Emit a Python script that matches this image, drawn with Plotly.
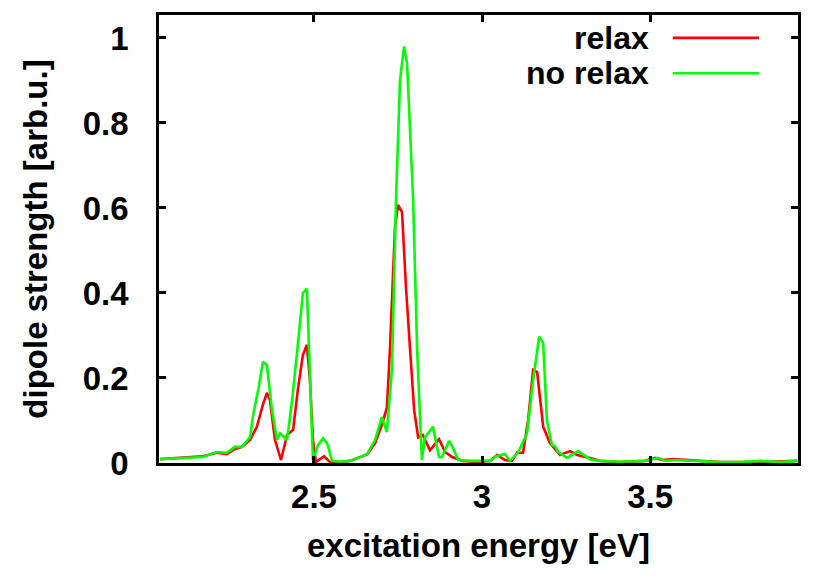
import plotly.graph_objects as go

# spectrum, relaxed geometry (red)
relax_x = [2.042, 2.101, 2.170, 2.211, 2.241, 2.265, 2.286, 2.310, 2.330, 2.348,
           2.360, 2.369, 2.384, 2.402, 2.420, 2.438, 2.452, 2.467, 2.479, 2.488,
           2.497, 2.506, 2.530, 2.548, 2.577, 2.607, 2.631, 2.658, 2.682, 2.702,
           2.717, 2.726, 2.741, 2.750, 2.762, 2.774, 2.786, 2.798, 2.810, 2.824,
           2.845, 2.872, 2.890, 2.911, 2.943, 2.994, 3.024, 3.045, 3.068, 3.089,
           3.104, 3.122, 3.137, 3.152, 3.164, 3.182, 3.202, 3.232, 3.262, 3.283,
           3.321, 3.351, 3.411, 3.485, 3.515, 3.536, 3.568, 3.640, 3.708, 3.827,
           3.938]
relax_y = [0.009, 0.012, 0.016, 0.024, 0.021, 0.033, 0.038, 0.054, 0.085, 0.137,
           0.165, 0.148, 0.054, 0.007, 0.066, 0.078, 0.172, 0.254, 0.278, 0.195,
           0.054, 0.002, 0.016, 0.002, 0.002, 0.005, 0.012, 0.020, 0.047, 0.090,
           0.130, 0.266, 0.555, 0.607, 0.590, 0.410, 0.266, 0.125, 0.060, 0.066,
           0.030, 0.056, 0.026, 0.014, 0.005, 0.002, 0.005, 0.019, 0.007, 0.005,
           0.024, 0.024, 0.100, 0.219, 0.214, 0.085, 0.047, 0.019, 0.028, 0.019,
           0.012, 0.005, 0.002, 0.005, 0.012, 0.007, 0.009, 0.005, 0.002, 0.002,
           0.005]

# spectrum, unrelaxed geometry (green)
norelax_x = [2.042, 2.101, 2.170, 2.211, 2.241, 2.265, 2.286, 2.310, 2.318, 2.336,
             2.348, 2.360, 2.375, 2.390, 2.399, 2.420, 2.435, 2.452, 2.467, 2.479,
             2.488, 2.497, 2.512, 2.527, 2.539, 2.554, 2.577, 2.607, 2.631, 2.658,
             2.682, 2.702, 2.717, 2.732, 2.744, 2.756, 2.768, 2.777, 2.795, 2.807,
             2.821, 2.830, 2.854, 2.872, 2.881, 2.902, 2.914, 2.929, 2.964, 3.024,
             3.042, 3.068, 3.083, 3.107, 3.134, 3.152, 3.170, 3.182, 3.193, 3.208,
             3.217, 3.226, 3.253, 3.286, 3.321, 3.351, 3.411, 3.485, 3.524, 3.545,
             3.580, 3.640, 3.708, 3.768, 3.827, 3.887, 3.938]
norelax_y = [0.009, 0.012, 0.014, 0.026, 0.024, 0.038, 0.038, 0.061, 0.108, 0.180,
             0.238, 0.230, 0.125, 0.054, 0.070, 0.054, 0.148, 0.278, 0.400, 0.410,
             0.195, 0.007, 0.042, 0.058, 0.047, 0.005, 0.003, 0.005, 0.012, 0.021,
             0.054, 0.108, 0.073, 0.220, 0.620, 0.900, 0.980, 0.940, 0.620, 0.266,
             0.007, 0.060, 0.085, 0.014, 0.014, 0.052, 0.035, 0.007, 0.005, 0.005,
             0.016, 0.021, 0.005, 0.024, 0.070, 0.195, 0.297, 0.282, 0.100, 0.042,
             0.040, 0.026, 0.012, 0.028, 0.009, 0.005, 0.003, 0.005, 0.012, 0.005,
             0.007, 0.005, 0.002, 0.002, 0.005, 0.002, 0.005]

x_ticks = [2.5, 3, 3.5]
x_ticklabels = ["2.5", "3", "3.5"]
y_ticks = [0, 0.2, 0.4, 0.6, 0.8, 1]
y_ticklabels = ["0", "0.2", "0.4", "0.6", "0.8", "1"]

series = [("relax", relax_x, relax_y, "#ff0000"),
          ("no relax", norelax_x, norelax_y, "#00ff00")]

font = dict(family="Liberation Sans", size=33, color="black", weight="bold")
key_font = dict(font, size=32)

fig = go.Figure()
for name, xs, ys, col in series:
    fig.add_trace(go.Scatter(x=xs, y=ys, mode="lines", name=name,
                             line=dict(color=col, width=2.6)))

# gnuplot style key: text on the left, line sample on the right
key_rows = [0.949, 0.870]
for (name, xs, ys, col), yk in zip(series, key_rows):
    fig.add_annotation(x=0.768, y=yk, xref="paper", yref="paper", text=name,
                       showarrow=False, xanchor="right", yanchor="middle",
                       borderpad=0, font=key_font)
    fig.add_shape(type="line", xref="paper", yref="paper", x0=0.804, x1=0.939,
                  y0=yk, y1=yk, line=dict(color=col, width=2.6))

axis_common = dict(showline=True, linecolor="black", linewidth=2.5, mirror="ticks",
                   ticks="inside", ticklen=7, tickwidth=2.5, tickcolor="black",
                   showgrid=False, zeroline=False, tickfont=font, automargin=False)

# page body has an 8px margin, so the figure is a bit smaller than the window
fig.update_layout(
    width=814, height=568,
    margin=dict(l=151, r=24, t=7, b=113),
    paper_bgcolor="white", plot_bgcolor="white",
    showlegend=False,
    font=font,
    xaxis=dict(range=[2.039, 3.94], tickvals=x_ticks, ticktext=x_ticklabels,
               ticklabelstandoff=3,
               title=dict(text="excitation energy [eV]", font=font, standoff=20),
               **axis_common),
    yaxis=dict(range=[0, 1.054], tickvals=y_ticks, ticktext=y_ticklabels,
               ticklabelstandoff=21,
               title=dict(text="dipole strength [arb.u.]", font=font, standoff=26),
               **axis_common),
)

fig.write_html("out.html")
